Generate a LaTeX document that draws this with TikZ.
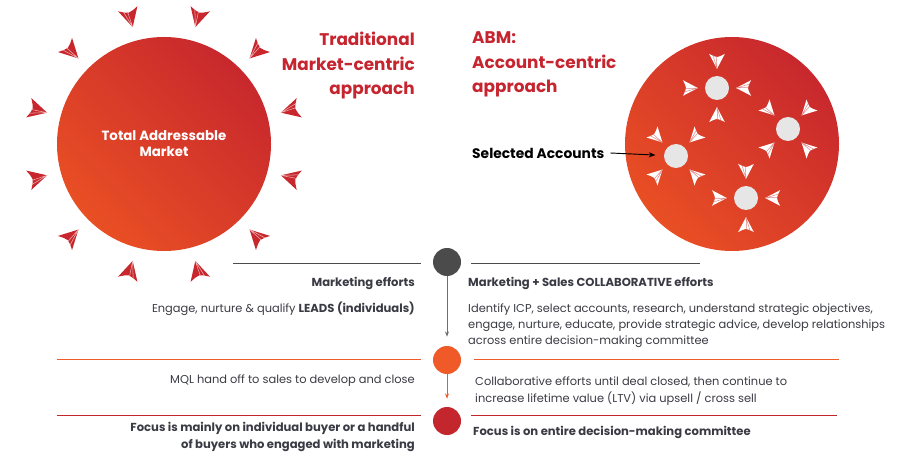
\documentclass[tikz,border=0pt]{standalone}
\usepackage{fontspec}
\setmainfont{Poppins}
\usetikzlibrary{
  positioning,
  arrows.meta,
  calc
}
\definecolor{tamred}{HTML}{C8282D}
\definecolor{tamorange}{HTML}{E94F24}
\definecolor{titlered}{HTML}{C62530}
\definecolor{stepgrey}{HTML}{4B4B4B}
\definecolor{steporange}{HTML}{F05A28}
\definecolor{stepred}{HTML}{C4262E}
\definecolor{bodytext}{HTML}{3A3A44}
\definecolor{acct}{HTML}{E6E6E6}

\tikzset{
  dartfold/.style={draw=white!65!tamred},
  dart/.pic={
    \fill[pic actions] (10,0) -- (-9,-10) .. controls (-6,-4) .. (-5,0) .. controls (-6,4) .. (-9,10) -- cycle;
    \draw[line width=0.45pt, dartfold] (10,0) -- (-7,5) (10,0) -- (-6,1);
  }
}

\begin{document}
\begin{tikzpicture}[
  x=0.03cm, y=-0.03cm,
  market/.style={circle, minimum size=6.42cm, align=center, text=white,
               font=\fontsize{11.4}{13.5}\selectfont\bfseries,
               top color=tamred, bottom color=tamorange, shading angle=-45},
  account/.style={circle, fill=acct, minimum size=0.72cm, inner sep=0pt},
  title/.style={text=titlered, inner xsep=0pt, font=\fontsize{14.4}{20.8}\selectfont\bfseries},
  stepdot/.style={circle, minimum size=0.84cm, inner sep=0pt},
  lefttext/.style={anchor=east, align=right, inner xsep=0pt, text=bodytext, font=\fontsize{9.75}{13.6}\selectfont},
  righttext/.style={anchor=west, align=left, inner xsep=0pt, text=bodytext, font=\fontsize{9.75}{13.6}\selectfont},
  boldtext/.style={font=\fontsize{9.9}{14.5}\selectfont\bfseries},
  rule/.style={line width=0.8pt},
  arr/.style={-{Stealth[length=2mm]}, thick, black},
  downarr/.style={-{Stealth[length=1.6mm]}, line width=0.8pt}
]
  \useasboundingbox (0,0) rectangle (900,460);

  % Top row: the two approaches
  \node[market] (tam) at (164,144) {Total Addressable\\Market};
  \node[market] (abm) at (732,144) {};

  \node[title, anchor=north east, align=right] (trad) at (415,28)
    {Traditional\\Market-centric\\approach};
  \node[title, anchor=north west, align=left] (acc) at (472,28)
    {ABM:\\Account-centric\\approach};

  % Darts around the whole market
  \foreach \a in {15,45,...,345}
    \pic[fill=tamred, rotate=180-\a] at ($(tam)+(\a:131)$) {dart};

  % Selected accounts
  \node[account] (acc1) at (717,88) {};
  \node[account] (acc2) at (788,129) {};
  \node[account] (acc3) at (676,156) {};
  \node[account] (acc4) at (746,198) {};

  \begin{scope}[dartfold/.style={draw=tamred!55}]
    \foreach \n/\s in {acc1/0, acc2/45, acc3/45, acc4/0}
      \foreach \a in {0,90,180,270}
        \pic[fill=white, scale=0.78, rotate=180-\a-\s] at ($(\n)+(\a+\s:27)$) {dart};
  \end{scope}

  \node[anchor=west, inner xsep=0pt, font=\fontsize{11.8}{13.5}\selectfont\bfseries] (sel) at (472,153) {Selected Accounts};
  \draw[arr, shorten >=0.25cm] ([xshift=5pt]sel.east) -- (acc3);

  % Timeline
  \node[stepdot, fill=stepgrey] (s1) at (447,262) {};
  \node[stepdot, fill=steporange] (s2) at (447,360) {};
  \node[stepdot, fill=stepred] (s3) at (447,421) {};

  \draw[downarr, stepgrey!80, shorten >=0.27cm] (s1) -- (s2);
  \draw[downarr, steporange, shorten >=0.24cm] (s2) -- (s3);

  \draw[rule, stepgrey] (233,263) -- (421,263);
  \draw[rule, stepgrey] (471,263) -- (700,263);
  \draw[rule, steporange] (57,359) -- (421,359);
  \draw[rule, steporange] (474,359) -- (839,359);
  \draw[rule, stepred] (57,415) -- (421,415);
  \draw[rule, stepred] (471,415) -- (837,415);

  % Left side: traditional
  \node[lefttext, boldtext] (mkt) at (415,283) {Marketing efforts};
  \node[lefttext] (leads) at (415,309) {Engage, nurture \& qualify {\fontsize{9.9}{13.6}\selectfont\bfseries LEADS (individuals)}};
  \node[lefttext] (mql) at (415,381) {MQL hand off to sales to develop and close};
  \node[lefttext, boldtext] (foc1) at (415,437)
    {Focus is mainly on individual buyer or a handful\\of buyers who engaged with marketing};

  % Right side: ABM
  \node[righttext, boldtext] (collab) at (468,283)
    {Marketing + Sales COLLABORATIVE efforts};
  \node[righttext] (icp) at (468,326)
    {Identify ICP, select accounts, research, understand strategic objectives,\\
     engage, nurture, educate, provide strategic advice, develop relationships\\
     across entire decision-making committee};
  \node[righttext, font=\fontsize{9.75}{14.5}\selectfont] (ltv) at (475,391)
    {Collaborative efforts until deal closed, then continue to\\
     increase lifetime value (LTV) via upsell / cross sell};
  \node[righttext, boldtext] (foc2) at (473,432)
    {Focus is on entire decision-making committee};

\end{tikzpicture}
\end{document}
